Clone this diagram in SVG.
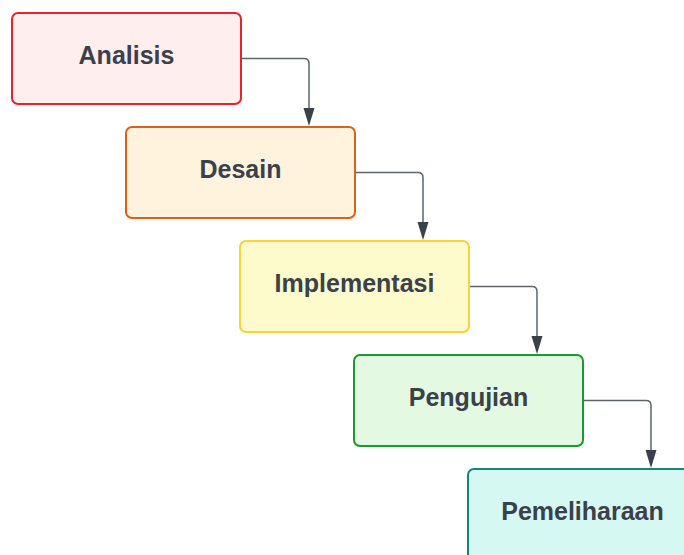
<svg xmlns="http://www.w3.org/2000/svg" width="684" height="555" viewBox="0 0 684 555">
<style>
.box{stroke-width:2}
.lbl{font-family:"Liberation Sans",Arial,sans-serif;font-weight:bold;font-size:25px;fill:#3a414a;text-anchor:middle}
.conn{fill:none;stroke:#5c6470;stroke-width:1.5}
.head{fill:#3a414a}
</style>
<rect width="684" height="555" fill="#ffffff"/>
<g id="connectors">
<path class="conn" d="M241,58.5 H304 Q309,58.5 309,63.5 V109"/>
<path class="head" d="M303.5,108 L314.5,108 L309,126 Z"/>
<path class="conn" d="M355,172.5 H418 Q423,172.5 423,177.5 V223"/>
<path class="head" d="M417.5,222 L428.5,222 L423,240 Z"/>
<path class="conn" d="M469,286.5 H532 Q537,286.5 537,291.5 V337"/>
<path class="head" d="M531.5,336 L542.5,336 L537,354 Z"/>
<path class="conn" d="M583,400.5 H646 Q651,400.5 651,405.5 V451"/>
<path class="head" d="M645.5,450 L656.5,450 L651,468 Z"/>
</g>
<g id="analisis">
<rect class="box" x="12" y="13" width="229" height="91" rx="6" fill="#ffeeee" stroke="#e8232c"/>
<text class="lbl" x="126.5" y="64">Analisis</text>
</g>
<g id="desain">
<rect class="box" x="126" y="127" width="229" height="91" rx="6" fill="#fff3dd" stroke="#d9621a"/>
<text class="lbl" x="240.5" y="178">Desain</text>
</g>
<g id="implementasi">
<rect class="box" x="240" y="241" width="229" height="91" rx="6" fill="#fdfacb" stroke="#f6d43a"/>
<text class="lbl" x="354.5" y="292">Implementasi</text>
</g>
<g id="pengujian">
<rect class="box" x="354" y="355" width="229" height="91" rx="6" fill="#e3f9e1" stroke="#1a9a2e"/>
<text class="lbl" x="468.5" y="406">Pengujian</text>
</g>
<g id="pemeliharaan">
<rect class="box" x="468" y="469" width="229" height="91" rx="6" fill="#d6f8f2" stroke="#15857a"/>
<text class="lbl" x="582.5" y="520">Pemeliharaan</text>
</g>
</svg>
